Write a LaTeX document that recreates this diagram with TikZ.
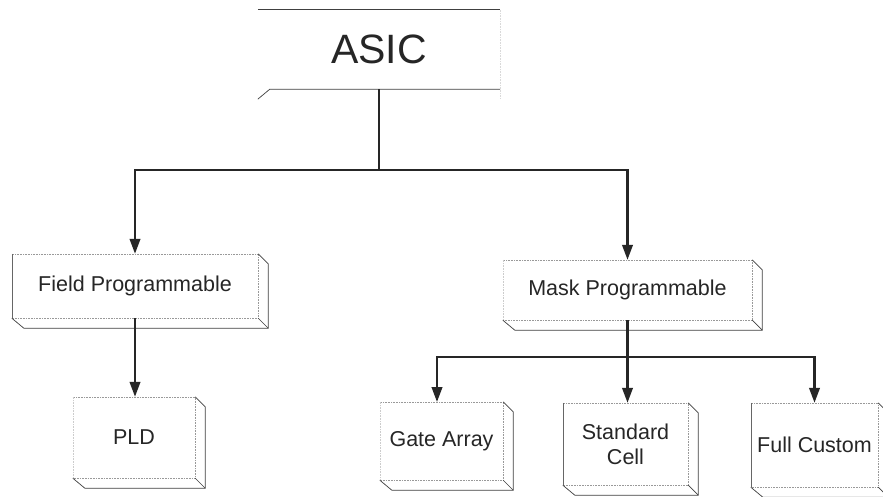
\documentclass[tikz,border=0pt]{standalone}
\usepackage{fontspec}
\setmainfont{Liberation Sans}
\usetikzlibrary{arrows.meta}
\begin{document}
\begin{tikzpicture}[x=1pt,y=-1pt,
  edge/.style={draw=black!75, line width=0.7pt},
  faint/.style={draw=black!40, line width=0.6pt, densely dotted},
  conn/.style={draw=black!85, line width=2.4pt},
  arr/.style={conn, -{Triangle[length=15pt,width=10.5pt]}},
  lbl/.style={inner sep=0pt, font=\fontsize{21.5}{25}\selectfont, text=black!85, align=center}]
\useasboundingbox[fill=white] (0,0) rectangle (883,497);

% nodes (front faces)
\node[lbl, minimum width=242pt, minimum height=79pt, font=\fontsize{41}{46}\selectfont] (asic) at (379,49.5) {ASIC};
\node[lbl, minimum width=246pt, minimum height=64pt] (field) at (135,286) {Field Programmable};
\node[lbl, minimum width=249pt, minimum height=60pt] (mask) at (627.5,290) {Mask Programmable};
\node[lbl, minimum width=122pt, minimum height=81pt] (pld) at (134,437.5) {PLD};
\node[lbl, minimum width=123pt, minimum height=78pt] (gate) at (441.5,441) {Gate Array};
\node[lbl, minimum width=125pt, minimum height=82pt] (std) at (625.5,444) {Standard\\Cell};
\node[lbl, minimum width=127pt, minimum height=84pt] (full) at (814.5,445) {Full Custom};

% ASIC slab
\draw[edge] (asic.north west) -- (asic.north east);
\draw[edge] ([yshift=-10pt]asic.south west) -- ([xshift=12pt]asic.south west) -- (asic.south east);
\draw[faint, draw=black!15] (asic.north east) -- ([yshift=-10pt]asic.south east);

% generic slabs
\foreach \n in {field,mask,pld,gate,std,full}{
  \draw[faint] (\n.north west) -- (\n.north east) -- (\n.south east) -- (\n.south west);
  \draw[edge] (\n.north east) -- ++(10,10) |- ([shift={(12,10)}]\n.south west) -- (\n.south west);
  \draw[edge] (\n.south east) -- ++(10,10);
}
\foreach \n in {field,std,full}{
  \draw[edge, draw=black!60, line width=0.6pt] (\n.north west) -- (\n.south west);
}
\foreach \n in {mask,pld,gate}{
  \draw[faint, draw=black!20] (\n.north west) -- (\n.south west);
}

% connectors
\coordinate (j1) at (379,170);
\coordinate (j2) at (627.5,357);
\coordinate (gaTop) at (437,402);
\draw[conn] (asic.south) -- (j1);
\draw[arr] (j1) -| (field.north);
\draw[arr] (j1) -| (mask.north);
\draw[arr] (field.south) -- (field.south |- pld.north);
\draw[arr] (mask.south) -- (mask.south |- std.north);
\draw[arr] (j2) -| (gaTop);
\draw[arr] (j2) -| (full.north);
\end{tikzpicture}
\end{document}
